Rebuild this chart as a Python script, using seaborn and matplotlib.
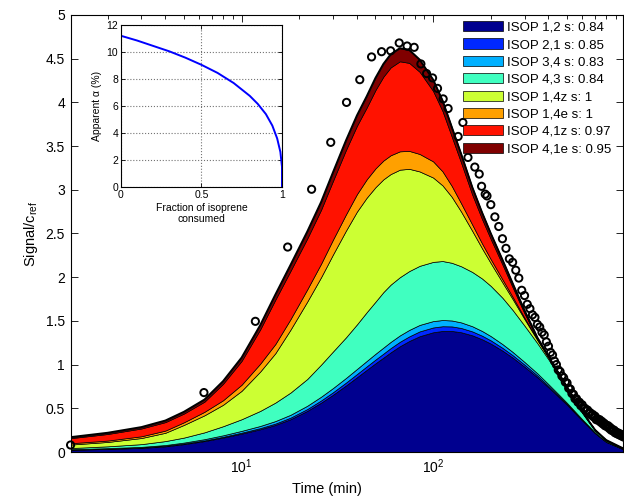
import matplotlib
matplotlib.use('Agg')
import matplotlib.pyplot as plt
import seaborn as sns
import numpy as np
import pandas as pd

# model time grid (min)
time_min = [1.28, 2, 3, 4, 5, 6.4, 8, 10, 12.5, 15, 18, 22, 26, 30, 35, 40, 45,
            50, 55, 60, 67, 75, 85, 100, 112, 125, 140, 160, 180, 200, 230, 260,
            300, 350, 400, 450, 500, 600, 700, 800, 1000]

# upper edge of each stacked area
isop12_top = [0.025, 0.035, 0.047, 0.065, 0.09, 0.125, 0.165, 0.21, 0.26, 0.31,
              0.375, 0.47, 0.565, 0.655, 0.76, 0.855, 0.94, 1.015, 1.08, 1.14, 1.21,
              1.27, 1.325, 1.37, 1.385, 1.385, 1.37, 1.335, 1.29, 1.24, 1.16, 1.08,
              0.975, 0.855, 0.74, 0.635, 0.54, 0.36, 0.215, 0.115, 0.025]
isop21_top = [0.028, 0.039, 0.052, 0.071, 0.097, 0.133, 0.174, 0.221, 0.273, 0.325,
              0.393, 0.491, 0.59, 0.684, 0.793, 0.892, 0.98, 1.058, 1.126, 1.189,
              1.261, 1.323, 1.38, 1.425, 1.439, 1.437, 1.419, 1.38, 1.331, 1.277,
              1.192, 1.108, 0.999, 0.875, 0.756, 0.648, 0.55, 0.367, 0.219, 0.117, 0.026]
isop34_top = [0.032, 0.044, 0.059, 0.08, 0.108, 0.147, 0.191, 0.242, 0.298, 0.354,
              0.426, 0.529, 0.633, 0.732, 0.846, 0.95, 1.042, 1.124, 1.195, 1.26,
              1.334, 1.397, 1.454, 1.498, 1.51, 1.505, 1.483, 1.439, 1.385, 1.326,
              1.235, 1.145, 1.03, 0.9, 0.776, 0.664, 0.562, 0.375, 0.224, 0.12, 0.027]
isop43_top = [0.045, 0.065, 0.09, 0.125, 0.165, 0.225, 0.295, 0.375, 0.47, 0.565,
              0.68, 0.835, 1.0, 1.15, 1.31, 1.46, 1.60, 1.72, 1.83, 1.915, 2.0, 2.07,
              2.13, 2.175, 2.185, 2.165, 2.125, 2.06, 1.985, 1.90, 1.765, 1.625,
              1.445, 1.245, 1.06, 0.89, 0.73, 0.45, 0.245, 0.133, 0.031]
isop14z_top = [0.085, 0.115, 0.16, 0.22, 0.31, 0.42, 0.54, 0.70, 0.92, 1.13, 1.40,
               1.72, 2.0, 2.26, 2.53, 2.75, 2.91, 3.03, 3.12, 3.18, 3.23, 3.24, 3.21,
               3.14, 3.05, 2.92, 2.75, 2.53, 2.33, 2.16, 1.94, 1.75, 1.52, 1.28, 1.08,
               0.90, 0.735, 0.455, 0.25, 0.135, 0.032]
isop14e_top = [0.10, 0.131, 0.18, 0.245, 0.34, 0.46, 0.592, 0.77, 1.01, 1.235, 1.52,
               1.86, 2.155, 2.43, 2.715, 2.95, 3.12, 3.245, 3.335, 3.395, 3.44, 3.445,
               3.41, 3.325, 3.21, 3.045, 2.845, 2.602, 2.386, 2.205, 1.975, 1.775,
               1.536, 1.29, 1.086, 0.904, 0.738, 0.457, 0.251, 0.136, 0.0325]
isop41z_top = [0.158, 0.206, 0.269, 0.342, 0.44, 0.576, 0.78, 1.042, 1.402, 1.742,
               2.072, 2.442, 2.772, 3.102, 3.452, 3.732, 3.942, 4.142, 4.295, 4.40,
               4.47, 4.452, 4.35, 4.13, 3.90, 3.61, 3.31, 2.945, 2.665, 2.435, 2.145,
               1.885, 1.585, 1.295, 1.091, 0.907, 0.743, 0.458, 0.252, 0.136, 0.0325]
isop41e_top = [0.17, 0.22, 0.285, 0.36, 0.46, 0.60, 0.81, 1.08, 1.45, 1.80, 2.14,
               2.52, 2.86, 3.20, 3.56, 3.85, 4.07, 4.28, 4.44, 4.55, 4.62, 4.60, 4.49,
               4.26, 4.02, 3.72, 3.41, 3.03, 2.74, 2.50, 2.20, 1.93, 1.62, 1.31, 1.095,
               0.91, 0.745, 0.46, 0.253, 0.137, 0.033]

layer_labels = ['ISOP 1,2 s: 0.84', 'ISOP 2,1 s: 0.85', 'ISOP 3,4 s: 0.83',
                'ISOP 4,3 s: 0.84', 'ISOP 1,4z s: 1', 'ISOP 1,4e s: 1',
                'ISOP 4,1z s: 0.97', 'ISOP 4,1e s: 0.95']
layer_colours = ['#00008F', '#0028FF', '#00B0FF', '#40FFC0',
                 '#CCFF33', '#FFA000', '#FF1200', '#800000']

# measured signal (open circles)
obs_time = [1.28, 6.36, 11.8, 17.4, 23.2, 29.2, 35.3, 41.4, 47.7, 53.8, 60, 66.5,
            73.1, 79.6, 86.3, 92.4, 99.3, 105.4, 112.8, 119.7, 135, 143, 152, 165,
            174, 179, 187, 191,
            200, 210, 220, 230, 240, 250, 260, 270, 280, 290, 300, 310, 320, 330,
            340, 350, 360, 370, 380, 390, 400, 410, 420, 430, 440, 450, 460, 470,
            480, 490, 500, 510, 520, 530, 540, 550, 560, 570, 580, 590, 600, 610,
            620, 630, 640, 650, 660, 670, 680, 690, 700, 710, 720, 730, 740, 750,
            760, 770, 780, 790, 800, 810, 820, 830, 840, 850, 860, 870, 880, 890,
            900, 910, 920, 930, 940, 950, 960, 970, 980, 990]
obs_signal = [0.08, 0.68, 1.495, 2.345, 3.006, 3.543, 4.0, 4.26, 4.52, 4.58, 4.59,
              4.68, 4.645, 4.63, 4.44, 4.33, 4.28, 4.16, 4.04, 3.93, 3.61, 3.77, 3.37,
              3.26, 3.18, 3.04, 2.95, 2.93,
              2.83, 2.69, 2.58, 2.44, 2.33, 2.21, 2.17, 2.08, 1.99, 1.85, 1.79, 1.69,
              1.64, 1.57, 1.54, 1.46, 1.43, 1.37, 1.34, 1.26, 1.21, 1.14, 1.11, 1.04,
              1.00, 0.94, 0.92, 0.87, 0.85, 0.80, 0.79, 0.73, 0.72, 0.67, 0.66, 0.61,
              0.61, 0.57, 0.57, 0.53, 0.54, 0.50, 0.50, 0.47, 0.48, 0.44, 0.45, 0.42,
              0.43, 0.40, 0.41, 0.37, 0.38, 0.36, 0.37, 0.34, 0.35, 0.32, 0.33, 0.30,
              0.31, 0.29, 0.30, 0.27, 0.28, 0.25, 0.26, 0.24, 0.25, 0.22, 0.23, 0.21,
              0.22, 0.20, 0.21, 0.19, 0.20, 0.18, 0.19, 0.17]

# inset: apparent alpha vs fraction consumed
inset_fraction = [0, 0, 0.1, 0.2, 0.3, 0.4, 0.5, 0.6, 0.7, 0.8, 0.85, 0.9, 0.94,
                  0.97, 0.99, 1.0, 1.0]
inset_alpha = [0, 11.2, 10.85, 10.45, 10.05, 9.58, 9.05, 8.45, 7.7, 6.75, 6.15,
               5.4, 4.55, 3.6, 2.6, 1.5, 0]

yticks = [0, 0.5, 1, 1.5, 2, 2.5, 3, 3.5, 4, 4.5, 5]

sns.set_style('ticks', {'axes.edgecolor': 'black', 'xtick.color': 'black',
                        'ytick.color': 'black', 'text.color': 'black',
                        'axes.labelcolor': 'black'})
plt.rcParams['font.family'] = ['Liberation Sans', 'DejaVu Sans']
plt.rcParams['mathtext.fontset'] = 'custom'
plt.rcParams['mathtext.rm'] = 'Liberation Sans'
plt.rcParams['mathtext.it'] = 'Liberation Sans:italic'

fig = plt.figure(figsize=(6.24, 5.01), dpi=100)
ax = fig.add_axes([0.1131, 0.0978, 0.886, 0.8723])
ax.set_xscale('log')

tops = [isop12_top, isop21_top, isop34_top, isop43_top,
        isop14z_top, isop14e_top, isop41z_top, isop41e_top]
handles = []
lower = np.zeros(len(time_min))
for top, colour, lab in zip(tops, layer_colours, layer_labels):
    h = ax.fill_between(time_min, lower, top, facecolor=colour, edgecolor='k',
                        linewidth=0.5, label=lab)
    handles.append(h)
    lower = np.array(top)
ax.plot(time_min, isop41e_top, color='k', linewidth=1.4)

obs = pd.DataFrame({'t': obs_time, 'signal': obs_signal})
sns.scatterplot(data=obs, x='t', y='signal', ax=ax, marker='o', s=27,
                facecolors='none', edgecolor='k', linewidth=1.4, zorder=5,
                clip_on=False)

ax.set_xlim(1.28, 985)
ax.set_ylim(0, 5)
ax.set_yticks(yticks)
ax.set_yticklabels(['%g' % v for v in yticks])
ax.tick_params(which='both', direction='in', top=True, right=True,
               labelsize=10, width=0.6, pad=4)
ax.tick_params(which='major', length=5)
ax.tick_params(which='minor', length=3)
for s in ax.spines.values():
    s.set_linewidth(0.8)
ax.set_xlabel('Time (min)', fontsize=10.5)
ax.set_ylabel('Signal/c$_\\mathregular{ref}$', fontsize=10.5)
ax.xaxis.set_label_coords((327 - 70.6) / 552.9, -0.068)

ax.legend(handles=handles, loc='upper left', bbox_to_anchor=(463 / 624, 0.958),
          bbox_transform=fig.transFigure, frameon=False, fontsize=9.5,
          handlelength=3.0, handleheight=0.8, labelspacing=0.36,
          handletextpad=0.35, borderpad=0, borderaxespad=0)

# inset
ax_in = fig.add_axes([0.1939, 0.6267, 0.258, 0.3234])
ax_in.set_facecolor('white')
sns.lineplot(x=inset_fraction, y=inset_alpha, ax=ax_in, color='#0000FF',
             linewidth=1.4, sort=False, estimator=None)
ax_in.set_xlim(0, 1)
ax_in.set_ylim(0, 12)
ax_in.set_xticks([0, 0.5, 1])
ax_in.set_xticklabels(['0', '0.5', '1'])
ax_in.set_yticks([0, 2, 4, 6, 8, 10, 12])
ax_in.grid(True, linestyle=':', color='0.45', linewidth=0.8)
ax_in.tick_params(which='both', direction='in', top=True, right=True,
                  labelsize=7.5, length=3, width=0.6, pad=2)
for s in ax_in.spines.values():
    s.set_linewidth(0.8)
ax_in.set_xlabel('Fraction of isoprene\nconsumed', fontsize=7.5, labelpad=2)
ax_in.set_ylabel('Apparent \u03b1 (%)', fontsize=7.5, labelpad=3)

fig.savefig('out.png', dpi=100)
